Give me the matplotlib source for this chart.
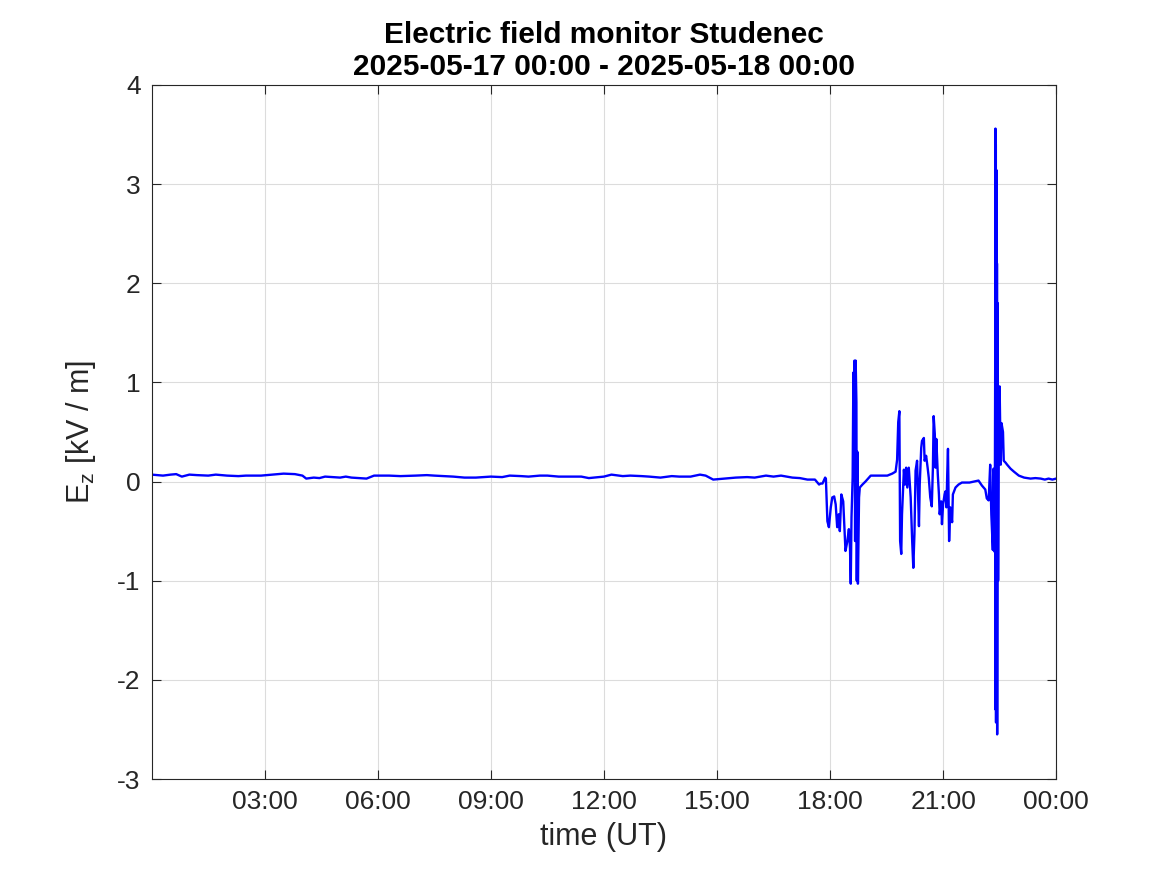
import numpy as np
import matplotlib
matplotlib.use("Agg")
import matplotlib.pyplot as plt

# E_z record, time in hours (UT) from 2025-05-17 00:00, field in kV/m
hours = [0.0, 0.15, 0.3, 0.5, 0.65, 0.8, 1.0, 1.2, 1.5, 1.7, 2.0, 2.3, 2.5,
         2.9, 3.2, 3.5, 3.8, 4.0, 4.1, 4.3, 4.45, 4.6, 5.0, 5.15, 5.3, 5.7,
         5.9, 6.3, 6.6, 7.0, 7.3, 7.5, 8.0, 8.3, 8.6, 9.0, 9.3, 9.5, 9.8,
         10.0, 10.3, 10.5, 10.8, 11.0, 11.4, 11.6, 12.0, 12.2, 12.5, 12.7,
         13.0, 13.2, 13.5, 13.8, 14.0, 14.3, 14.55, 14.7, 14.9, 15.2, 15.5,
         15.8, 16.0, 16.3, 16.5, 16.7, 17.0, 17.2, 17.4, 17.6,
         17.71, 17.75, 17.80, 17.87,
         17.89, 17.91, 17.93, 17.97, 18.02, 18.06, 18.11, 18.15, 18.19, 18.23,
         18.26, 18.30, 18.35, 18.39, 18.41, 18.46, 18.50, 18.53, 18.55, 18.57,
         18.60, 18.62, 18.635, 18.65, 18.665, 18.68, 18.70, 18.71, 18.725, 18.74,
         18.77, 18.79, 18.86, 18.94, 19.08, 19.25, 19.52, 19.65, 19.74,
         19.78, 19.81, 19.84, 19.86, 19.89, 19.91, 19.96, 19.99, 20.02, 20.05,
         20.09, 20.14, 20.18, 20.21, 20.24, 20.27, 20.31, 20.36, 20.38, 20.42,
         20.44, 20.49, 20.51, 20.55, 20.59, 20.62, 20.66, 20.70, 20.73, 20.75,
         20.78, 20.80, 20.82, 20.86, 20.89, 20.91, 20.95, 20.97, 21.00, 21.04,
         21.06, 21.09, 21.11, 21.13, 21.16, 21.19, 21.24, 21.26, 21.33, 21.41,
         21.50, 21.7, 21.94, 22.03, 22.12, 22.16, 22.21, 22.25, 22.28, 22.32,
         22.34, 22.37, 22.385, 22.39, 22.395, 22.40, 22.405, 22.41, 22.415,
         22.42, 22.425, 22.43, 22.435, 22.44, 22.45, 22.46, 22.48, 22.50, 22.53,
         22.55, 22.59, 22.61, 22.66, 22.70, 22.79, 22.88, 23.01, 23.15, 23.32,
         23.45, 23.59, 23.7, 23.8, 23.9, 24.0]
ez = [0.07, 0.065, 0.06, 0.07, 0.075, 0.05, 0.07, 0.065, 0.06, 0.07, 0.06,
      0.055, 0.06, 0.06, 0.07, 0.08, 0.075, 0.06, 0.03, 0.04, 0.035, 0.05,
      0.04, 0.05, 0.04, 0.03, 0.06, 0.06, 0.055, 0.06, 0.065, 0.06, 0.05,
      0.04, 0.04, 0.05, 0.045, 0.06, 0.055, 0.05, 0.06, 0.06, 0.05, 0.05,
      0.05, 0.035, 0.05, 0.07, 0.055, 0.06, 0.055, 0.05, 0.04, 0.055, 0.05,
      0.05, 0.07, 0.06, 0.02, 0.03, 0.04, 0.045, 0.04, 0.06, 0.05, 0.06,
      0.04, 0.035, 0.02, 0.02,
      -0.03, -0.02, -0.02, 0.04,
      0.03, -0.20, -0.40, -0.46, -0.26, -0.16, -0.15, -0.23, -0.46, -0.33,
      -0.50, -0.13, -0.20, -0.53, -0.70, -0.60, -0.48, -0.67, -1.03, -0.36,
      0.04, 1.10, 0.20, 1.22, -0.60, 1.22, 0.80, -1.00, 0.30, -1.03,
      -0.16, -0.06, -0.03, 0.00, 0.06, 0.06, 0.06, 0.08, 0.10,
      0.22, 0.60, 0.71, -0.60, -0.73, -0.33, 0.12, -0.03, 0.14, -0.06,
      0.14, -0.16, -0.60, -0.87, -0.53, 0.11, 0.21, -0.45, -0.03, 0.34,
      0.41, 0.44, 0.21, 0.26, 0.14, 0.04, -0.16, -0.25, 0.14, 0.66,
      0.48, 0.14, 0.43, 0.07, -0.13, -0.33, -0.20, -0.43, -0.23, -0.13,
      -0.10, -0.26, 0.07, 0.33, -0.60, -0.26, -0.41, -0.13, -0.06, -0.03,
      -0.01, -0.01, 0.01, -0.04, -0.08, -0.17, -0.19, 0.17, -0.33, -0.69,
      0.13, -0.71, 1.50, 3.56, -2.30, 3.40, -2.43, 2.60, -2.00, 3.14,
      -2.40, 2.20, -2.55, -1.26, 1.80, -1.00, 0.80, 0.96, 0.17,
      0.59, 0.50, 0.21, 0.19, 0.17, 0.13, 0.10, 0.06, 0.04, 0.03,
      0.035, 0.03, 0.02, 0.03, 0.02, 0.03]

xticks = [3, 6, 9, 12, 15, 18, 21, 24]
xticklabels = ["03:00", "06:00", "09:00", "12:00", "15:00", "18:00", "21:00", "00:00"]
yticks = [-3, -2, -1, 0, 1, 2, 3, 4]

plt.rcParams['font.family'] = ['Liberation Sans', 'DejaVu Sans']
plt.rcParams['mathtext.fontset'] = 'custom'
plt.rcParams['mathtext.rm'] = 'Liberation Sans'
plt.rcParams['mathtext.it'] = 'Liberation Sans'
plt.rcParams['axes.unicode_minus'] = False

dark = '#262626'
fig = plt.figure(figsize=(11.67, 8.75), dpi=100)
ax = fig.add_axes([0.130, 0.1097, 0.775, 0.7932])

ax.plot(hours, ez, color=(0, 0, 1), lw=1.7)

ax.set_xlim(0, 24)
ax.set_ylim(-3, 4)
ax.set_xticks(xticks)
ax.set_xticklabels(xticklabels)
ax.set_yticks(yticks)
ax.tick_params(direction='in', length=6.5, width=0.8, colors=dark,
               labelsize=19, top=True, right=True, pad=8)
ax.grid(True, color='#dcdcdc', lw=0.8)
ax.set_axisbelow(True)
for s in ax.spines.values():
    s.set_color(dark)
    s.set_linewidth(0.8)

ax.set_xlabel("time (UT)", fontsize=22, color=dark, labelpad=6)
ax.set_ylabel(r"E$_{\mathrm{z}}$ [kV / m]", fontsize=22, color=dark, labelpad=14)
ax.set_title("Electric field monitor Studenec\n2025-05-17 00:00 - 2025-05-18 00:00",
             fontsize=21.5, fontweight='bold', color='black', pad=7, linespacing=1.2)

fig.savefig("out.png", dpi=100, facecolor='white')
